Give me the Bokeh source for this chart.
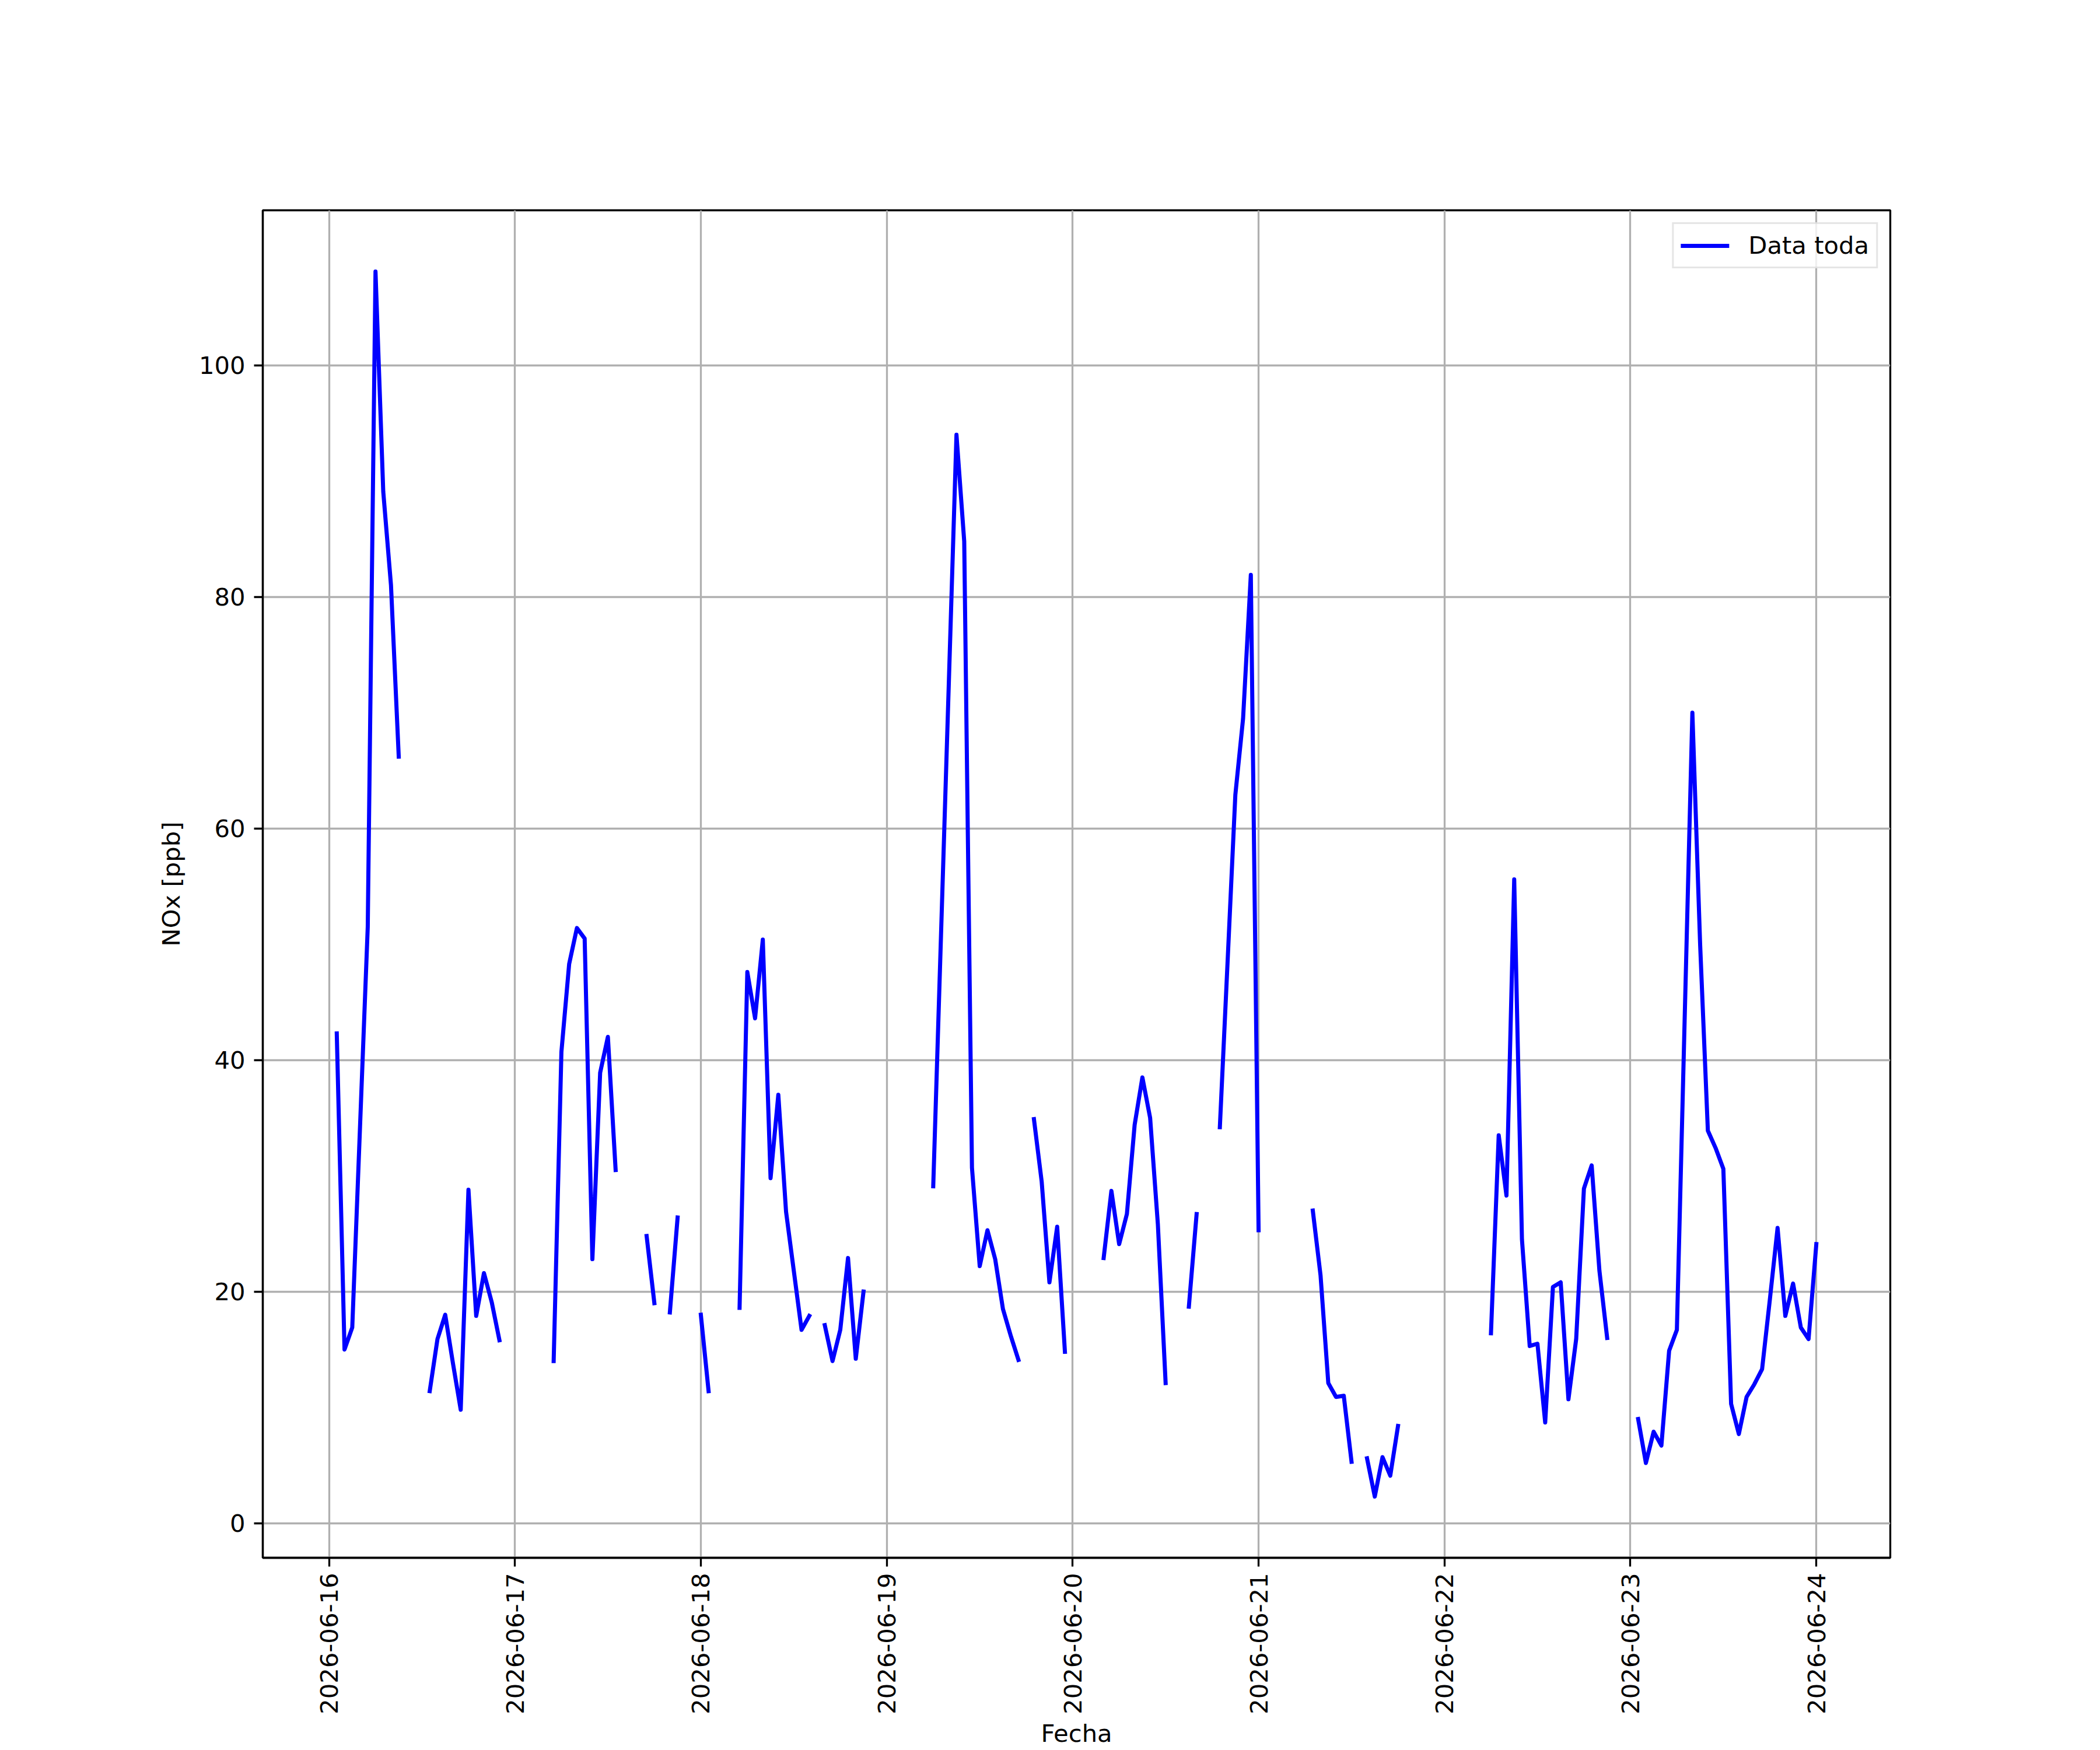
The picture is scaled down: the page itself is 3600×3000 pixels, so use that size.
import math
import numpy as np
from bokeh.plotting import figure
from bokeh.models import (ColumnDataSource, FixedTicker, DatetimeTickFormatter,
                          Range1d, Legend, LegendItem)
from bokeh.embed import file_html
from bokeh.resources import INLINE

# ---- data: hourly NOx [ppb], one list per day (hours 00..23); None = no data
fechas = ["2026-06-16", "2026-06-17", "2026-06-18", "2026-06-19",
          "2026-06-20", "2026-06-21", "2026-06-22", "2026-06-23", "2026-06-24"]

nox_0616 = [None, 42.3, 15.0, 16.9, 34.2, 51.5, 108.1, 89.1, 81.0, 66.2, None, None,
            None, 11.4, 15.9, 18.0, 13.8, 9.8, 28.8, 17.9, 21.6, 19.1, 15.8, None]
nox_0617 = [None, None, None, None, None, 14.0, 40.7, 48.3, 51.4, 50.5, 22.8, 38.9,
            42.0, 30.5, None, None, None, 24.8, 19.0, None, 18.2, 26.4, None, None]
nox_0618 = [18.0, 11.4, None, None, None, 18.6, 47.6, 43.6, 50.4, 29.8, 37.0, 26.9,
            21.8, 16.7, 17.9, None, 17.1, 14.0, 16.7, 22.9, 14.2, 20.0, None, None]
nox_0619 = [None, None, None, None, None, None, 29.1, 50.7, 72.3, 94.0, 84.8, 30.7,
            22.2, 25.3, 22.8, 18.5, 16.2, 14.1, None, 34.9, 29.5, 20.8, 25.6, 14.8]
nox_0620 = [None, None, None, None, 22.9, 28.7, 24.1, 26.7, 34.4, 38.5, 35.0, 25.8,
            12.1, None, None, 18.7, 26.7, None, None, 34.2, 48.5, 62.9, 69.5, 81.9]
nox_0621 = [25.3, None, None, None, None, None, None, 27.0, 21.4, 12.1, 10.9, 11.0,
            5.3, None, 5.6, 2.3, 5.7, 4.1, 8.4, None, None, None, None, None]
nox_0622 = [None, None, None, None, None, None, 16.4, 33.5, 28.3, 55.6, 24.5, 15.3,
            15.5, 8.7, 20.4, 20.8, 10.7, 15.9, 28.9, 30.9, 21.8, 16.0, None, None]
nox_0623 = [None, 9.0, 5.2, 7.9, 6.7, 14.9, 16.7, 43.4, 70.0, 50.0, 33.9, 32.4,
            30.6, 10.3, 7.7, 10.9, 12.0, 13.3, 19.3, 25.5, 17.9, 20.7, 16.9, 15.9]
nox_0624 = [24.1]

y_ticks = [0, 20, 40, 60, 80, 100]
serie_label = "Data toda"
x_label = "Fecha"
y_label = "NOx [ppb]"

# ---- build hourly series
values = nox_0616 + nox_0617 + nox_0618 + nox_0619 + nox_0620 + nox_0621 + nox_0622 + nox_0623 + nox_0624
vals = np.array([np.nan if v is None else v for v in values], dtype=float)
t0 = np.datetime64(fechas[0] + "T00:00").astype("datetime64[ms]").astype(np.int64)
HOUR = 3600 * 1000
times = t0 + np.arange(len(vals)) * HOUR

valid = ~np.isnan(vals)
tmin, tmax = float(times[valid].min()), float(times[valid].max())
vmin, vmax = float(np.nanmin(vals)), float(np.nanmax(vals))
xpad = 0.05 * (tmax - tmin)
ypad = 0.05 * (vmax - vmin)
x0, x1 = tmin - xpad, tmax + xpad
y0, y1 = vmin - ypad, vmax + ypad

day_ticks = [int(np.datetime64(f).astype("datetime64[ms]").astype(np.int64)) for f in fechas]

src = ColumnDataSource(dict(t=times.astype(float), nox=vals))

FONT = "DejaVu Sans"
FS = "41.7px"
LW = 3.3

W, H = 3600, 3000
p = figure(width=W, height=H, x_axis_type="datetime",
           output_backend="svg", toolbar_location=None,
           x_range=Range1d(x0, x1), y_range=Range1d(y0, y1),
           min_border_left=450, min_border_right=360,
           min_border_top=360, min_border_bottom=330)
p.background_fill_color = "white"
p.border_fill_color = "white"
p.outline_line_color = "black"
p.outline_line_width = LW

r = p.line(x="t", y="nox", source=src, line_color="blue", line_width=7,
           line_join="round", line_cap="square")

p.xaxis.ticker = FixedTicker(ticks=day_ticks)
fmt = "%Y-%m-%d"
p.xaxis.formatter = DatetimeTickFormatter(days=fmt, months=fmt, hours=fmt, years=fmt,
                                          minutes=fmt, seconds=fmt, milliseconds=fmt,
                                          microseconds=fmt, minsec=fmt, hourmin=fmt)
p.xaxis.major_label_orientation = math.pi / 2
p.yaxis.ticker = FixedTicker(ticks=y_ticks)

for ax in (p.xaxis, p.yaxis):
    ax.axis_line_width = LW
    ax.axis_line_color = "black"
    ax.major_tick_in = 0
    ax.major_tick_out = 15
    ax.major_tick_line_width = LW
    ax.major_tick_line_color = "black"
    ax.minor_tick_out = 0
    ax.minor_tick_in = 0
    ax.major_label_text_font = FONT
    ax.major_label_text_font_size = FS
    ax.major_label_text_color = "black"
    ax.major_label_standoff = 15
    ax.axis_label_text_font = FONT
    ax.axis_label_text_font_size = FS
    ax.axis_label_text_font_style = "normal"
    ax.axis_label_text_color = "black"

p.xaxis.major_label_standoff = 11
p.xaxis.axis_label = x_label
p.xaxis.axis_label_standoff = 5
p.yaxis.axis_label = y_label
p.yaxis.axis_label_standoff = 20

for g in (p.xgrid, p.ygrid):
    g.grid_line_color = "#b0b0b0"
    g.grid_line_width = LW

legend = Legend(items=[LegendItem(label=serie_label, renderers=[r])],
                location="top_right")
legend.margin = 21
legend.padding = 12
legend.spacing = 0
legend.glyph_width = 83
legend.glyph_height = 38
legend.label_height = 38
legend.label_standoff = 33
legend.label_text_font = FONT
legend.label_text_font_size = FS
legend.label_text_color = "black"
legend.border_line_color = "#cccccc"
legend.border_line_width = LW
legend.background_fill_alpha = 0.8
p.add_layout(legend)

open("out.html", "w").write(file_html(p, INLINE))
